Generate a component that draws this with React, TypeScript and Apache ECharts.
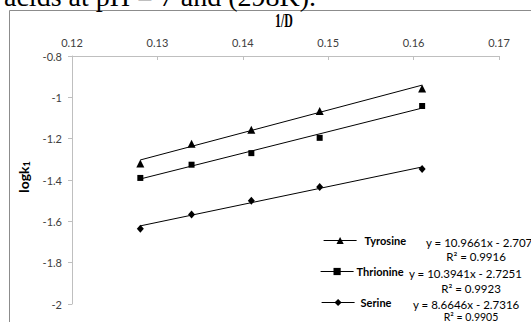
import React, { useEffect, useRef } from "react";
import * as echarts from "echarts";

const xValues = [0.128, 0.134, 0.141, 0.149, 0.161];
const tyrosine = [-1.32, -1.225, -1.157, -1.066, -0.957];
const thrionine = [-1.39, -1.326, -1.27, -1.196, -1.042];
const serine = [-1.636, -1.567, -1.501, -1.434, -1.347];

// trendline endpoints (at first and last x)
const trendX = [0.128, 0.161];
const tyrosineTrend = [-1.303, -0.941];
const thrionineTrend = [-1.395, -1.052];
const serineTrend = [-1.622, -1.337];

const seriesNames = ["Tyrosine", "Thrionine", "Serine"];
const equations = ["y = 10.9661x - 2.707", "y = 10.3941x - 2.7251", "y = 8.6646x - 2.7316"];
const rSquared = ["R² = 0.9916", "R² = 0.9923", "R² = 0.9905"];
const symbols = ["triangle", "rect", "diamond"];

const FONT = "Lato, 'Open Sans', sans-serif";

export default function App() {
  const ref = useRef<HTMLDivElement>(null);
  useEffect(() => {
    if (!ref.current) return;
    const chart = echarts.init(ref.current, undefined, { renderer: "svg" });
    const values = [tyrosine, thrionine, serine];
    const trends = [tyrosineTrend, thrionineTrend, serineTrend];
    const symbolSizes: any[] = [8, 6, [7, 8]];

    const dataSeries = seriesNames.map((name, i) => ({
      name,
      type: "line",
      data: xValues.map((x, j) => [x, values[i][j]]),
      symbol: symbols[i],
      symbolSize: symbolSizes[i],
      itemStyle: { color: "#000" },
      lineStyle: { opacity: 0, width: 0 },
      z: 3,
    }));
    const trendSeries = seriesNames.map((name, i) => ({
      name: name + " trend",
      type: "line",
      data: trendX.map((x, j) => [x, trends[i][j]]),
      symbol: "none",
      lineStyle: { color: "#000", width: 1 },
      z: 2,
    }));

    const legendRows = [242, 273, 304];
    const legendLeft = [323, 320, 321];
    const legendTextPad = [3, -2, 1];
    const legends = seriesNames.map((name, i) => ({
      data: [name],
      left: legendLeft[i],
      top: legendRows[i] - 7,
      padding: 0,
      itemWidth: 33,
      itemHeight: 9,
      lineStyle: { opacity: 1, width: 1.2, color: "#000" },
      textStyle: {
        fontFamily: FONT,
        fontWeight: "bold",
        fontSize: 11,
        color: "#000",
        padding: [0, 0, 0, legendTextPad[i]],
      },
      selectedMode: false,
    }));

    const eqLeft = [426, 409, 413];
    const r2Center = [476, 471, 471];
    const r2Rows = [256, 288, 316.5];
    const r2Size = [11.5, 11.5, 10.5];
    const graphics: any[] = [
      {
        type: "rect",
        shape: { x: 9.5, y: 10.5, width: 700, height: 400 },
        style: { fill: "none", stroke: "#8c8c8c", lineWidth: 1 },
        silent: true,
      },
      {
        type: "text",
        x: 4,
        y: -4,
        style: {
          text: "acids at pH = 7 and (298K).",
          font: "28px 'Liberation Serif', serif",
          fill: "#000",
          verticalAlign: "middle",
        },
      },
      {
        type: "text",
        x: 284,
        y: 21,
        scaleX: 0.66,
        style: {
          text: "1/D",
          font: "bold 18px 'Liberation Serif', serif",
          fill: "#000",
          align: "center",
          verticalAlign: "middle",
        },
      },
      {
        type: "text",
        x: 23,
        y: 177,
        rotation: Math.PI / 2,
        style: {
          text: "{a|logk}{b|1}",
          align: "center",
          verticalAlign: "middle",
          rich: {
            a: { fontFamily: FONT, fontWeight: "bold", fontSize: 14, color: "#000" },
            b: { fontFamily: FONT, fontWeight: "bold", fontSize: 9, color: "#000", padding: [7, 0, 0, 0] },
          },
        },
      },
    ];
    equations.forEach((eq, i) => {
      graphics.push({
        type: "text",
        x: eqLeft[i],
        y: legendRows[i],
        style: { text: eq, fontFamily: FONT, fontSize: 11.5, fill: "#000", align: "left", verticalAlign: "middle" },
      });
      graphics.push({
        type: "text",
        x: r2Center[i],
        y: r2Rows[i],
        style: { text: rSquared[i], fontFamily: FONT, fontSize: r2Size[i], fill: "#000", align: "center", verticalAlign: "middle" },
      });
    });

    chart.setOption({
      animation: false,
      backgroundColor: "#fff",
      grid: { left: 72, right: 32, top: 56, bottom: 18, containLabel: false },
      xAxis: {
        type: "value",
        position: "top",
        min: 0.12,
        max: 0.17,
        interval: 0.01,
        axisLine: { show: true, lineStyle: { color: "#bfbfbf", width: 1 } },
        axisTick: { show: true, inside: true, length: 4, lineStyle: { color: "#bfbfbf" } },
        splitLine: { show: false },
        axisLabel: {
          margin: 8,
          color: "#404040",
          fontFamily: FONT,
          fontSize: 11,
          formatter: (v: number) => v.toFixed(2),
        },
      },
      yAxis: {
        type: "value",
        min: -2,
        max: -0.8,
        interval: 0.2,
        axisLine: { show: true, onZero: false, lineStyle: { color: "#bfbfbf", width: 1 } },
        axisTick: { show: true, inside: false, length: 4, lineStyle: { color: "#bfbfbf" } },
        splitLine: { show: false },
        axisLabel: {
          margin: 10,
          color: "#404040",
          fontFamily: FONT,
          fontSize: 11,
          formatter: (v: number) => String(Math.round(v * 10) / 10),
        },
      },
      legend: legends,
      graphic: graphics,
      series: [...trendSeries, ...dataSeries],
    });
    return () => chart.dispose();
  }, []);
  return (
    <div
      ref={ref}
      style={{ position: "fixed", left: 0, top: 0, width: 531, height: 322, background: "#fff" }}
    />
  );
}
